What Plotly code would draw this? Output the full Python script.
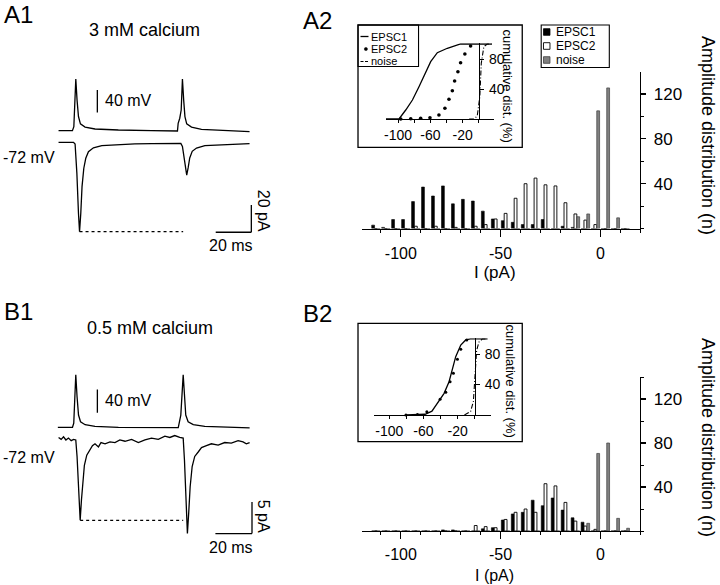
import plotly.graph_objects as go

W, H = 720, 585
FONT = "Liberation Sans, Arial, Helvetica, sans-serif"

# ---------------- A1 (3 mM calcium) traces ----------------
a1_vt = [0, 7.8, 8.6, 9.1, 9.7, 10.4, 11.2, 12.3, 14.9, 20.5, 33.6, 52.3, 66.8, 67.2,
         68.1, 68.9, 69.6, 70.3, 71.0, 72.0, 74.7, 80.3, 95.2, 107.3]
a1_v = [-65, -65, -58, -11, 26, -11, -40, -53, -58.5, -62, -63.8, -65, -65.5, -52,
        -43, -28.5, 26, -11, -40, -53, -58.5, -62.5, -65, -66.8]
a1_it = [0, 8.4, 9.3, 10.3, 11.2, 11.8, 12.5, 13.2, 14.2, 15.3, 16.8, 19.6, 24.3, 33.6,
         42.9, 52.3, 61.6, 68.7, 69.6, 70.6, 71.5, 72.0, 72.8, 73.7, 75.1, 77.5, 82.2,
         91.5, 99.0, 107.3]
a1_i = [0, 0, -1.2, -22.7, -52, -65.5, -52, -32.5, -19, -11.7, -6.9, -4, -2.5, -1.7,
        -1.2, -1.0, -0.8, -0.8, -3, -12.7, -21.2, -24.1, -18.8, -11.5, -6.6, -4.2, -2.5,
        -1.8, -1.5, -1.0]
a1_peak_t = [11.8, 70.0]
a1_peak_i = [-65.5, -65.5]

# ---------------- B1 (0.5 mM calcium) traces ----------------
b1_vt = [0, 8.0, 8.7, 9.3, 9.8, 10.5, 11.3, 12.4, 14.9, 20.3, 33.1, 65.8, 66.3, 67.2,
         68.5, 69.2, 69.9, 71.2, 74.0, 80.3, 93.0, 104.8]
b1_v = [-65, -65, -58, -18, 25, -12.5, -44, -55.4, -60.5, -63.3, -65, -65.6, -58, -44,
        25, -12.5, -44, -55.4, -60.5, -63.3, -65, -66]
b1_it = [0.4, 1.8, 3.1, 4.4, 5.8, 7.3, 8.6, 9.8, 10.5, 11.3, 12.2, 12.9, 13.6, 14.5,
         15.8, 17.3, 18.9, 20.3, 22.2, 23.6, 25.8, 28.5, 31.2, 33.9, 36.7, 40.3, 44.0,
         47.6, 51.2, 54.9, 58.5, 61.2, 63.9, 66.6, 68.5, 69.2, 69.9, 70.8, 71.5, 72.3,
         73.4, 74.8, 76.7, 78.5, 81.2, 83.9, 87.6, 91.2, 94.8, 98.5, 101.2, 103.0, 104.8]
b1_i = [0.4, 0.1, 0.5, 0, 0.3, -0.1, 0.1, 0, -2.6, -8.4, -12.7, -9.5, -6.3, -4.0,
        -2.4, -1.6, -0.9, -0.6, -1.1, -0.4, -0.6, -0.3, -0.4, 0, -0.2, 0.1, -0.4,
        0, 0.3, 0.1, 0.6, 0.4, 0.7, 0.4, 0.3, -3.2, -8.4, -14.8, -11.6, -7.4,
        -4.2, -2.6, -1.9, -1.2, -0.9, -0.6, -0.8, -0.4, -0.5, -0.1, -0.3, -0.6, -0.4]
b1_peak_t = [12.2, 68.5]
b1_peak_i = [-12.7, -12.7]

# ---------------- amplitude histograms (bin centres, pA) ----------------
bins = [-112.5, -107.5, -102.5, -97.5, -92.5, -87.5, -82.5, -77.5, -72.5, -67.5,
        -62.5, -57.5, -52.5, -47.5, -42.5, -37.5, -32.5, -27.5, -22.5, -17.5,
        -12.5, -7.5, -2.5, 2.5, 7.5, 12.5]
a2_epsc1 = [3, 1, 8, 8, 24, 37, 29, 38, 22, 26, 24.5, 15.5, 8.5, 7, 5.5, 3.5, 3.5, 8,
            0, 2, 1, 0, 0, 0, 0, 0]
a2_epsc2 = [0, 0, 0, 0, 2, 0, 2, 0, 1, 0, 2, 3.5, 8.5, 13.5, 27, 40, 45, 39, 38, 23,
            13, 7.5, 3.5, 0, 0, 0]
a2_noise = [0, 0, 0, 0, 0, 0, 0, 0, 0, 0, 0, 0, 0, 0, 0, 0, 0, 0, 0, 0,
            10.5, 13, 105, 125.5, 9.5, 0]
b2_epsc1 = [0, 0, 0, 0, 0, 0, 0, 1, 1, 0, 0, 2, 3, 10, 15.5, 17, 28, 23, 30, 19,
            12, 8, 0, 0, 0, 0]
b2_epsc2 = [0, 0, 0, 0, 0, 0, 0, 0, 0, 0, 5, 4, 3, 10.5, 17, 20, 17, 43, 41, 26,
            9, 4.5, 1.5, 0, 0, 0]
b2_noise = [0, 0, 0, 0, 0, 0, 0, 0, 0, 0, 0, 0, 0, 0, 0, 0, 0, 0, 0, 0,
            0, 7, 70.5, 80, 11.5, 2.5]

# ---------------- cumulative distributions (insets) ----------------
a2c_e1_x = [-115, -98.8, -90.5, -82.2, -74.1, -65.8, -59.6, -51.4, -39, -22.6, 16]
a2c_e1_y = [0, 0, 12, 25.3, 43, 61, 76.4, 88.4, 94.3, 100, 100]
a2c_e2_x = [-96.7, -84.3, -72, -60.5, -49.4, -42, -37, -32.8, -30, -25.9, -22.6, -17.3, -10.2]
a2c_e2_y = [0, 0.4, 1, 1.7, 5.3, 14.3, 26.3, 37.7, 50.7, 63, 75, 86.7, 97.3]
a2c_nz_x = [-12, -6.2, -2, 1.2, 3, 6.2, 10.4, 16]
a2c_nz_y = [0, 0, 4, 29.7, 74.3, 96.4, 100, 100]

b2c_e1_x = [-80, -58, -50, -43.5, -35.8, -30, -26, -22.2, -16.3, -10.5, -5, 15]
b2c_e1_y = [0, 1, 5, 15.4, 28.5, 43.8, 59, 76.7, 92, 98.7, 100, 100]
b2c_e2_x = [-80.5, -67, -56, -40.5, -33.8, -28.8, -24.9, -20.2, -16.3, -9.3]
b2c_e2_y = [0, 0.5, 4.3, 20.6, 29.8, 43.8, 54.9, 73.3, 86.4, 98.7]
b2c_nz_x = [-12, -4.7, -1.5, 0.4, 2.3, 5, 9, 15]
b2c_nz_y = [0, 4.7, 18, 58, 85, 96, 100, 100]

hist_ticks_x = [-100, -50, 0]
hist_ticktext_x = ["-100", "-50", "0"]
hist_ticks_y = [40, 80, 120]
inset_ticks_x = [-100, -80, -60, -40, -20, 0]
inset_ticktext_x = ["-100", "", "-60", "", "-20", ""]
inset_ticks_y = [40, 80]

# ---------------- helpers (pixel layout -> paper) ----------------
def xd(a, b):
    return [a / W, b / W]

def yd(top, bot):
    return [1 - bot / H, 1 - top / H]

def P(x):
    return x / W

def Q(y):
    return 1 - y / H

fig = go.Figure()
LW = 1.3
blk = dict(color="black", width=LW)

# traces A1
fig.add_trace(go.Scatter(x=a1_vt, y=a1_v, xaxis="x", yaxis="y", mode="lines", line=blk))
fig.add_trace(go.Scatter(x=a1_it, y=a1_i, xaxis="x", yaxis="y2", mode="lines", line=blk))
fig.add_trace(go.Scatter(x=a1_peak_t, y=a1_peak_i, xaxis="x", yaxis="y2", mode="lines",
                         line=dict(color="black", width=1.2, dash="3px,3px")))
# traces B1
fig.add_trace(go.Scatter(x=b1_vt, y=b1_v, xaxis="x2", yaxis="y3", mode="lines", line=blk))
fig.add_trace(go.Scatter(x=b1_it, y=b1_i, xaxis="x2", yaxis="y4", mode="lines", line=blk))
fig.add_trace(go.Scatter(x=b1_peak_t, y=b1_peak_i, xaxis="x2", yaxis="y4", mode="lines",
                         line=dict(color="black", width=1.2, dash="3px,3px")))

# histograms
def bars(xa, ya, e1, e2, nz):
    fig.add_trace(go.Bar(x=bins, y=e1, xaxis=xa, yaxis=ya, name="EPSC1",
                         marker=dict(color="black", line=dict(color="black", width=0.6))))
    fig.add_trace(go.Bar(x=bins, y=e2, xaxis=xa, yaxis=ya, name="EPSC2",
                         marker=dict(color="white", line=dict(color="black", width=0.9))))
    fig.add_trace(go.Bar(x=bins, y=nz, xaxis=xa, yaxis=ya, name="noise",
                         marker=dict(color="#808080", line=dict(color="#404040", width=0.7))))

bars("x3", "y5", a2_epsc1, a2_epsc2, a2_noise)
bars("x4", "y6", b2_epsc1, b2_epsc2, b2_noise)

# insets
def cum(xa, ya, e1x, e1y, e2x, e2y, nzx, nzy, msize):
    fig.add_trace(go.Scatter(x=e1x, y=e1y, xaxis=xa, yaxis=ya, mode="lines", line=blk))
    fig.add_trace(go.Scatter(x=e2x, y=e2y, xaxis=xa, yaxis=ya, mode="markers",
                             marker=dict(color="black", size=msize), cliponaxis=False))
    fig.add_trace(go.Scatter(x=nzx, y=nzy, xaxis=xa, yaxis=ya, mode="lines",
                             line=dict(color="black", width=1.1, dash="5px,2px,1px,2px")))

cum("x5", "y7", a2c_e1_x, a2c_e1_y, a2c_e2_x, a2c_e2_y, a2c_nz_x, a2c_nz_y, 3.6)
cum("x6", "y8", b2c_e1_x, b2c_e1_y, b2c_e2_x, b2c_e2_y, b2c_nz_x, b2c_nz_y, 3.0)

hidden = dict(visible=False, showgrid=False, zeroline=False, fixedrange=True)
tf = lambda s: dict(family=FONT, size=s, color="black")

def hist_x(anchor, standoff):
    return dict(domain=xd(361, 640), range=[-119.5, 20], anchor=anchor, showline=True,
                linecolor="black", linewidth=1.2, ticks="outside", ticklen=7, tickwidth=1.2,
                tickcolor="black", tickmode="array", tickvals=hist_ticks_x,
                ticktext=hist_ticktext_x, showgrid=False,
                zeroline=False, tickfont=tf(16), ticklabelstandoff=standoff,
                minor=dict(ticks="outside", ticklen=3, tickmode="linear", tick0=0, dtick=10,
                           tickcolor="black", tickwidth=1, showgrid=False))

def hist_y(anchor, dom, rng):
    return dict(domain=dom, range=rng, anchor=anchor, side="right", showline=True,
                linecolor="black", linewidth=1.2, ticks="outside", ticklen=5, tickwidth=1.2,
                tickcolor="black", tickmode="array", tickvals=hist_ticks_y, showgrid=False,
                zeroline=False, tickfont=tf(17), ticklabelstandoff=4,
                minor=dict(ticks="outside", ticklen=3, tickmode="linear", tick0=0, dtick=20,
                           tickcolor="black", tickwidth=1, showgrid=False))

def ins_x(anchor, dom, rng):
    return dict(domain=dom, range=rng, anchor=anchor, showline=True, linecolor="black",
                linewidth=1.1, ticks="outside", ticklen=3, tickcolor="black", tickwidth=1,
                tickmode="array", tickvals=inset_ticks_x, ticktext=inset_ticktext_x,
                showgrid=False, zeroline=False, tickfont=tf(14), ticklabelstandoff=0)

def ins_y(dom, pos):
    return dict(domain=dom, range=[0, 101], anchor="free", position=pos, side="right",
                showline=True, linecolor="black", linewidth=1.3, ticks="outside", ticklen=4,
                tickcolor="black", tickwidth=1, tickmode="array", tickvals=inset_ticks_y,
                showgrid=False, zeroline=False, tickfont=tf(14), ticklabelstandoff=2)

layout = dict(
    width=W, height=H, margin=dict(l=0, r=0, t=0, b=0), autosize=False,
    paper_bgcolor="white", plot_bgcolor="rgba(0,0,0,0)", showlegend=False,
    barmode="group", bargap=0.15, bargroupgap=0,
    font=dict(family=FONT, color="black"),
    xaxis=dict(domain=xd(50, 260), range=[-3.75, 113.89], anchor="y", **hidden),
    yaxis=dict(domain=yd(70, 140), range=[-81.4, 42.1], anchor="x", **hidden),
    yaxis2=dict(domain=yd(140, 240), range=[-71.58, 1.68], anchor="x", **hidden),
    xaxis2=dict(domain=xd(50, 260), range=[-3.27, 111.17], anchor="y3", **hidden),
    yaxis3=dict(domain=yd(360, 440), range=[-86.78, 50.44], anchor="x2", **hidden),
    yaxis4=dict(domain=yd(430, 545), range=[-16.61, 1.58], anchor="x2", **hidden),
    xaxis3=hist_x("y5", 3),
    yaxis5=hist_y("x3", yd(72, 228.5), [0, 139.7]),
    xaxis4=hist_x("y6", 2),
    yaxis6=hist_y("x4", yd(377, 531), [0, 140]),
    xaxis5=ins_x("y7", xd(385, 493), [-115, 18.3]),
    yaxis7=ins_y(yd(43.25, 119), 478.3 / W),
    xaxis6=ins_x("y8", xd(373, 490.7), [-117.9, 19.5]),
    yaxis8=ins_y(yd(338.2, 415), 474 / W),
)
fig.update_layout(**layout)

# ---------------- shapes: scale bars, boxes, legend keys ----------------
shapes = []
def seg(xref, yref, x0, y0, x1, y1, w=LW, dash=None):
    d = dict(type="line", xref=xref, yref=yref, x0=x0, y0=y0, x1=x1, y1=y1,
             line=dict(color="black", width=w))
    if dash:
        d["line"]["dash"] = dash
    shapes.append(d)

# A1 scale bars (40 mV, 20 pA, 20 ms)
seg("x", "y", 21.8, -33, 21.8, 7)
seg("x", "y2", 108.3, -65.9, 108.3, -45.9)
seg("x", "y2", 88.3, -65.9, 108.3, -65.9)
# B1 scale bars (40 mV, 5 pA, 20 ms)
seg("x2", "y3", 21.6, -40, 21.6, 0)
seg("x2", "y4", 106.1, -14.8, 106.1, -9.8)
seg("x2", "y4", 86.1, -14.8, 106.1, -14.8)

def rect(x0, y0, x1, y1, fill="rgba(0,0,0,0)", lc="black", w=1.3):
    shapes.append(dict(type="rect", xref="paper", yref="paper", x0=P(x0), x1=P(x1),
                       y0=Q(y1), y1=Q(y0), fillcolor=fill, line=dict(color=lc, width=w)))

# inset frames
rect(357, 25, 521.7, 147.3)
rect(357, 323.3, 521.7, 441.7)
# inset legend box + keys
irows = [36.5, 49, 61.5]
rect(357, 25, 417.7, 66.5, w=1.1)
seg("paper", "paper", P(359.5), Q(irows[0]), P(367.5), Q(irows[0]), w=1.3)
shapes.append(dict(type="circle", xref="paper", yref="paper", x0=P(363.3), x1=P(366.5),
                   y0=Q(irows[1] + 1.6), y1=Q(irows[1] - 1.6), fillcolor="black",
                   line=dict(color="black", width=0.5)))
seg("paper", "paper", P(359.5), Q(irows[2]), P(368), Q(irows[2]), w=1.1, dash="3px,1.5px")
# bar legend box + keys
rect(540.7, 25, 609, 67.5, w=1.1)
rows = [32, 46, 60]
rect(543, rows[0] - 3.3, 549.5, rows[0] + 3.3, fill="black", w=0.8)
rect(543, rows[1] - 3.3, 549.5, rows[1] + 3.3, fill="white", w=0.9)
rect(543, rows[2] - 3.3, 549.5, rows[2] + 3.3, fill="#808080", lc="#404040", w=0.8)

fig.update_layout(shapes=shapes)

# ---------------- text ----------------
anns = []
def txt(s, x, y, size, xa="center", ya="middle", angle=0):
    anns.append(dict(text=s, x=P(x), y=Q(y), xref="paper", yref="paper", showarrow=False,
                     xanchor=xa, yanchor=ya, textangle=angle, font=tf(size), borderpad=0))

txt("A1", 1, 14, 24, xa="left")
txt("3 mM calcium", 143, 30, 18)
txt("40 mV", 102, 100, 16, xa="left")
txt("-72 mV", 0, 158, 16, xa="left")
txt("20 pA", 263, 211, 16, angle=90)
txt("20 ms", 230, 245, 16)

txt("B1", 1, 311, 24, xa="left")
txt("0.5 mM calcium", 148, 328, 18)
txt("40 mV", 102, 400, 16, xa="left")
txt("-72 mV", 0, 457, 16, xa="left")
txt("5 pA", 263, 516, 16, angle=90)
txt("20 ms", 230, 547, 16)

txt("A2", 301, 21, 24, xa="left")
txt("B2", 301, 313, 24, xa="left")
txt("I (pA)", 494, 272, 17)
txt("I (pA)", 494, 575, 16)
txt("Amplitude distribution (n)", 708, 135, 18, angle=90)
txt("Amplitude distribution (n)", 708, 437, 18, angle=90)
txt("cumulative dist. (%)", 507, 86, 13, angle=90)
txt("cumulative dist. (%)", 510, 381, 13, angle=90)

txt("EPSC1", 369.5, irows[0], 11, xa="left")
txt("EPSC2", 369.5, irows[1], 11, xa="left")
txt("noise", 369.5, irows[2], 11, xa="left")

txt("EPSC1", 555, rows[0], 12, xa="left")
txt("EPSC2", 555, rows[1], 12, xa="left")
txt("noise", 555, rows[2], 12, xa="left")

fig.update_layout(annotations=anns)

fig.write_html("out.html", include_plotlyjs=True, full_html=True,
               config={"displayModeBar": False, "staticPlot": True},
               post_script="document.body.style.margin='0';document.body.style.padding='0';")
